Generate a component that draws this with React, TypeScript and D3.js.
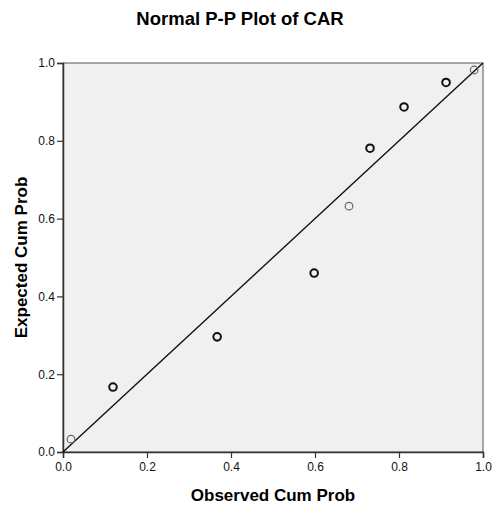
import React, { useEffect, useRef } from "react";
import * as d3 from "d3";

// observed vs expected cumulative probabilities
const observed = [0.019, 0.119, 0.367, 0.598, 0.681, 0.731, 0.812, 0.912, 0.979];
const expected = [0.033, 0.167, 0.296, 0.46, 0.632, 0.781, 0.887, 0.95, 0.982];
// how many cases sit on each marker (overlapping ones look heavier)
const counts = [1, 2, 2, 2, 1, 2, 2, 2, 1];
const ticks = [0, 0.2, 0.4, 0.6, 0.8, 1.0];

export default function App() {
    const ref = useRef<SVGSVGElement>(null);

    useEffect(() => {
        document.body.style.margin = "0";
        if (!ref.current) return;
        const svg = d3.select(ref.current);
        svg.selectAll("*").remove();

        const width = 493;
        const height = 509;
        const margin = { top: 63, right: 10, bottom: 57, left: 63 };
        const innerW = 483 - margin.left;
        const innerH = 452 - margin.top;

        const x = d3.scaleLinear().domain([0, 1]).range([0, innerW]);
        const y = d3.scaleLinear().domain([0, 1]).range([innerH, 0]);

        svg.attr("width", width).attr("height", height)
            .style("font-family", "Arial, 'Liberation Sans', sans-serif");

        svg.append("text")
            .attr("x", 240).attr("y", 25)
            .attr("text-anchor", "middle")
            .attr("font-size", "18.5px").attr("font-weight", "bold")
            .text("Normal P-P Plot of CAR");

        const g = svg.append("g").attr("transform", `translate(${margin.left},${margin.top})`);

        g.append("rect")
            .attr("width", innerW).attr("height", innerH)
            .attr("fill", "#f0f0f0")
            .attr("stroke", "#555").attr("stroke-width", 1);

        // axes
        const xAxis = g.append("g").attr("transform", `translate(0,${innerH})`)
            .call(d3.axisBottom(x).tickValues(ticks).tickFormat(d3.format(".1f")).tickSizeOuter(0).tickSize(6).tickPadding(4));
        const yAxis = g.append("g")
            .call(d3.axisLeft(y).tickValues(ticks).tickFormat(d3.format(".1f")).tickSizeOuter(0).tickSize(6).tickPadding(2));
        [xAxis, yAxis].forEach(a => {
            a.select(".domain").attr("stroke", "#333").attr("stroke-width", 1.5);
            a.selectAll(".tick line").attr("stroke", "#333").attr("stroke-width", 1.2);
            a.selectAll(".tick text").attr("font-size", "12px").attr("fill", "#111")
                .style("font-family", "Arial, 'Liberation Sans', sans-serif");
        });

        // reference diagonal
        g.append("line")
            .attr("x1", x(0)).attr("y1", y(0))
            .attr("x2", x(1)).attr("y2", y(1))
            .attr("stroke", "#111").attr("stroke-width", 1.4);

        // points
        g.selectAll("circle.pt")
            .data(observed.map((o, i) => ({ o, e: expected[i], n: counts[i] })))
            .enter().append("circle")
            .attr("class", "pt")
            .attr("cx", d => x(d.o))
            .attr("cy", d => y(d.e))
            .attr("r", 3.8)
            .attr("fill", "none")
            .attr("stroke", d => d.n > 1 ? "#111" : "#666")
            .attr("stroke-width", d => d.n > 1 ? 2 : 1.2);

        // axis titles
        svg.append("text")
            .attr("x", margin.left + innerW / 2).attr("y", 501)
            .attr("text-anchor", "middle")
            .attr("font-size", "17px").attr("font-weight", "bold")
            .text("Observed Cum Prob");

        svg.append("text")
            .attr("transform", `translate(27,${margin.top + innerH / 2}) rotate(-90)`)
            .attr("text-anchor", "middle")
            .attr("font-size", "17px").attr("font-weight", "bold")
            .text("Expected Cum Prob");
    }, []);

    return <svg ref={ref} style={{ display: "block" }} />;
}
